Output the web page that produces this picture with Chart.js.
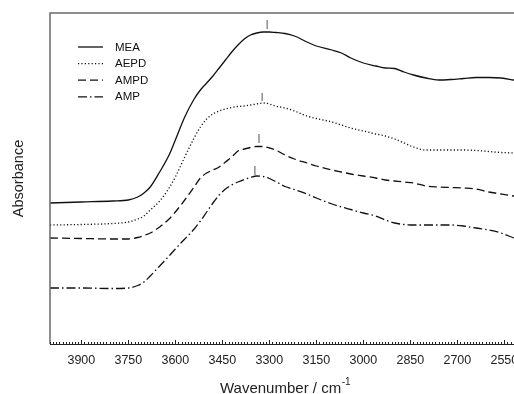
<!DOCTYPE html>
<html><head><meta charset="utf-8">
<script src="https://cdn.jsdelivr.net/npm/chart.js@4.4.1/dist/chart.umd.min.js"></script>
<style>html,body{margin:0;padding:0;background:#fff;overflow:hidden;width:514px;height:394px}
#wrap{width:540px;height:394px}</style></head>
<body><div id="wrap"><canvas id="c" width="540" height="394"></canvas></div>
<script>
const wavenumbers = [4000,3900,3800,3750,3720,3700,3680,3650,3620,3600,3570,3540,3520,3500,3480,3460,3440,3420,3400,3380,3360,3340,3320,3300,3280,3250,3220,3180,3150,3100,3070,3040,3000,2960,2930,2900,2870,2840,2800,2760,2720,2680,2640,2600,2560,2520,2500];
const meaValues = [1.41,1.42,1.43,1.44,1.47,1.51,1.57,1.72,1.89,2.04,2.27,2.45,2.54,2.61,2.68,2.76,2.84,2.92,2.99,3.05,3.09,3.11,3.12,3.12,3.115,3.105,3.08,3.02,2.98,2.94,2.91,2.86,2.81,2.78,2.76,2.755,2.72,2.69,2.66,2.64,2.645,2.655,2.665,2.665,2.66,2.64,2.63];
const aepdValues = [1.19,1.195,1.205,1.22,1.25,1.28,1.34,1.43,1.56,1.67,1.87,2.06,2.17,2.25,2.30,2.33,2.35,2.365,2.375,2.38,2.39,2.40,2.41,2.40,2.38,2.36,2.33,2.28,2.255,2.22,2.19,2.16,2.13,2.10,2.08,2.05,2.01,1.97,1.94,1.94,1.94,1.94,1.935,1.925,1.915,1.91,1.905];
const ampdValues = [1.06,1.055,1.05,1.05,1.065,1.085,1.11,1.17,1.25,1.32,1.44,1.57,1.66,1.71,1.74,1.77,1.82,1.87,1.93,1.95,1.965,1.975,1.975,1.96,1.94,1.89,1.85,1.81,1.78,1.74,1.72,1.70,1.68,1.66,1.64,1.63,1.62,1.61,1.58,1.57,1.565,1.56,1.55,1.52,1.50,1.48,1.47];
const ampValues = [0.56,0.56,0.555,0.56,0.585,0.62,0.68,0.78,0.88,0.95,1.05,1.15,1.23,1.32,1.41,1.49,1.55,1.59,1.62,1.645,1.665,1.68,1.675,1.655,1.625,1.575,1.545,1.50,1.46,1.40,1.37,1.345,1.31,1.28,1.24,1.21,1.195,1.19,1.19,1.19,1.19,1.18,1.16,1.14,1.11,1.06,1.04];
const seriesNames = ['MEA','AEPD','AMPD','AMP'];
const tickLabels = [3900,3750,3600,3450,3300,3150,3000,2850,2700,2550];
const peakWavenumbers = [3307,3323,3333,3346];
const peakMarkLow = [3.15,2.43,2.01,1.69];
const peakMarkHigh = [3.24,2.51,2.10,1.78];

const seriesValues = [meaValues, aepdValues, ampdValues, ampValues];
const dashes = [[], [1.2,2.2], [8,4], [9,3,1.5,3]];
const FONT = "'Liberation Sans', Arial, sans-serif";

const datasets = seriesValues.map((vals, i) => ({
  label: seriesNames[i],
  data: wavenumbers.map((w, j) => ({x: w, y: vals[j]})),
  borderColor: '#111', borderWidth: 1.3, borderDash: dashes[i],
  pointRadius: 0, cubicInterpolationMode: 'monotone', fill: false
}));
peakWavenumbers.forEach((w, i) => datasets.push({
  label: 'peak' + i,
  data: [{x: w, y: peakMarkLow[i]}, {x: w, y: peakMarkHigh[i]}],
  borderColor: '#555', borderWidth: 1, pointRadius: 0, fill: false
}));

const decor = {
  id: 'decor',
  afterDraw(chart) {
    const {ctx, chartArea: a, scales: {x}} = chart;
    ctx.save();
    ctx.strokeStyle = '#6a6a6a'; ctx.lineWidth = 1.5;
    ctx.beginPath(); ctx.moveTo(a.left, a.bottom); ctx.lineTo(a.left, a.top); ctx.lineTo(a.right, a.top); ctx.stroke();
    ctx.strokeStyle = '#222'; ctx.lineWidth = 1;
    ctx.beginPath(); ctx.moveTo(a.left, a.bottom + 0.5); ctx.lineTo(a.right, a.bottom + 0.5); ctx.stroke();
    for (let w = 2500; w <= 4000; w += 10) {
      const px = Math.round(x.getPixelForValue(w)) + 0.5;
      const len = tickLabels.includes(w) ? 4 : 2;
      ctx.beginPath(); ctx.moveTo(px, a.bottom); ctx.lineTo(px, a.bottom - len); ctx.stroke();
    }
    ctx.font = '11.5px ' + FONT; ctx.fillStyle = '#111'; ctx.textBaseline = 'middle';
    for (let i = 0; i < 4; i++) {
      const y = a.top + 34 + i * 16.6;
      ctx.strokeStyle = '#111'; ctx.lineWidth = 1.3; ctx.setLineDash(dashes[i]);
      ctx.beginPath(); ctx.moveTo(a.left + 28, y); ctx.lineTo(a.left + 53, y); ctx.stroke();
      ctx.setLineDash([]);
      ctx.fillText(seriesNames[i], a.left + 65, y + 0.5);
    }
    const main = 'Wavenumber / cm', sup = '-1';
    ctx.font = '15px ' + FONT; const w1 = ctx.measureText(main).width;
    ctx.font = '10px ' + FONT; const w2 = ctx.measureText(sup).width;
    const cx = (a.left + a.right) / 2;
    const x0 = cx - (w1 + w2) / 2;
    ctx.textAlign = 'left'; ctx.textBaseline = 'alphabetic';
    ctx.font = '15px ' + FONT; ctx.fillStyle = '#222'; ctx.fillText(main, x0, 393);
    ctx.font = '10px ' + FONT; ctx.fillText(sup, x0 + w1 + 0.5, 385);
    ctx.restore();
  }
};

new Chart(document.getElementById('c'), {
  type: 'line',
  data: {datasets},
  options: {
    responsive: false, animation: false,
    layout: {padding: {top: 13, right: 20, left: 0, bottom: 0}},
    plugins: {legend: {display: false}, tooltip: {enabled: false}},
    scales: {
      x: {
        type: 'linear', reverse: true, min: 2500, max: 4000,
        grid: {display: false, drawTicks: false},
        border: {display: false},
        afterBuildTicks: s => { s.ticks = tickLabels.map(v => ({value: v})); },
        afterFit: s => { s.height = 50; },
        ticks: {autoSkip: false, maxRotation: 0, padding: 9, color: '#222',
          font: {family: FONT, size: 12.5}, callback: v => String(v)}
      },
      y: {
        min: 0, max: 3.31,
        grid: {display: false, drawTicks: false},
        border: {display: false},
        ticks: {display: false},
        afterFit: s => { s.width = 50; },
        title: {display: true, text: 'Absorbance', color: '#222',
          font: {family: FONT, size: 14.5}, padding: {top: 10, bottom: 0}}
      }
    }
  },
  plugins: [decor]
});
</script></body></html>
